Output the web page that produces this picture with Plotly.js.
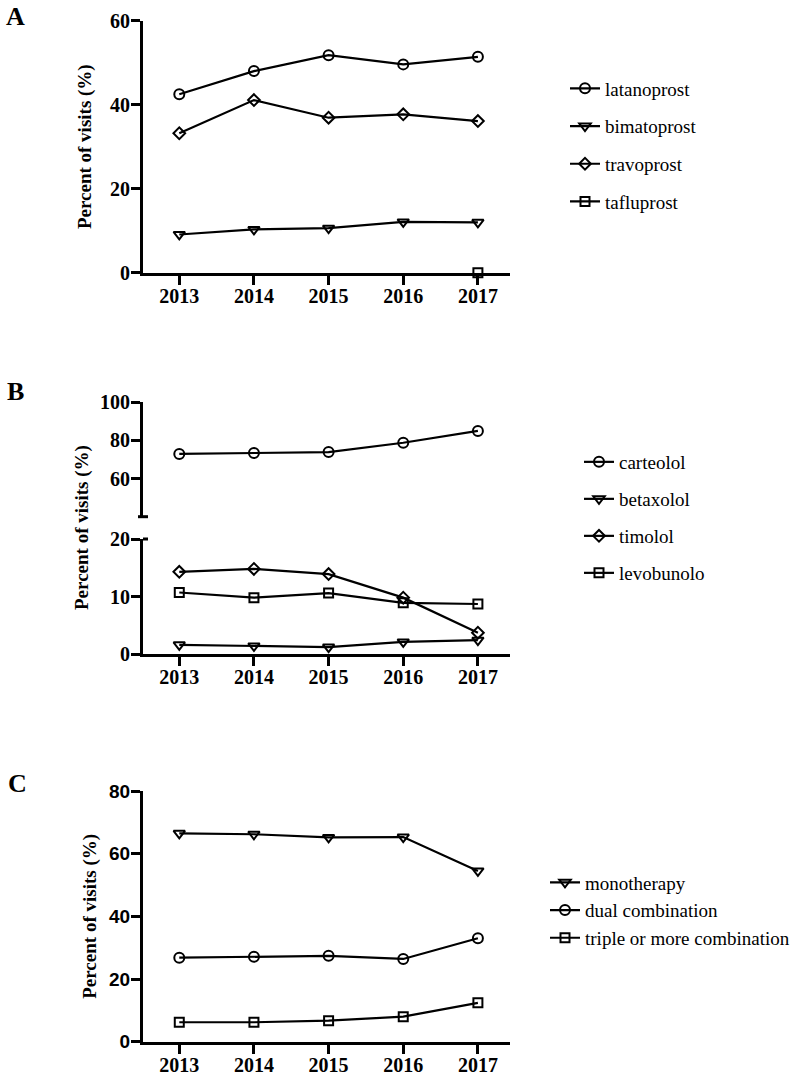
<!DOCTYPE html>
<html>
<head>
<meta charset="utf-8">
<script src="https://cdn.plot.ly/plotly-3.0.1.min.js"></script>
<style>
  html, body { margin: 0; padding: 0; background: #fff; }
  #chart { width: 800px; height: 1076px; }
</style>
</head>
<body>
<div id="chart"></div>
<script>
// ---------- data ----------
const years = [2013, 2014, 2015, 2016, 2017];
const yearLabels = ['2013', '2014', '2015', '2016', '2017'];

// Panel A: prostaglandin analogues
const latanoprost = [42.5, 48.0, 51.8, 49.6, 51.4];
const bimatoprost = [9.1, 10.3, 10.6, 12.1, 12.0];
const travoprost = [33.2, 41.1, 36.9, 37.7, 36.1];
const tafluprost = [null, null, null, null, 0];

// Panel B: beta blockers
const carteolol = [72.9, 73.4, 73.9, 78.8, 85.0];
const betaxolol = [1.6, 1.4, 1.2, 2.1, 2.4];
const timolol = [14.3, 14.8, 13.9, 9.8, 3.7];
const levobunolo = [10.7, 9.8, 10.6, 8.9, 8.7];

// Panel C: therapy type
const monotherapy = [66.5, 66.2, 65.2, 65.3, 54.5];
const dualCombination = [26.8, 27.1, 27.4, 26.4, 33.0];
const tripleCombination = [6.2, 6.2, 6.7, 8.0, 12.4];

const yTicksA = [0, 20, 40, 60];
const yTicksBLow = [0, 10, 20];
const yTicksBHigh = [60, 80, 100];
const yTicksC = [0, 20, 40, 60, 80];

// ---------- style helpers ----------
const W = 800, H = 1076;
const px = v => v / W;            // x pixel -> paper
const py = v => 1 - v / H;        // y pixel -> paper

// fresh font objects for every use
const serifTick = () => ({ family: 'Liberation Serif', size: 20, color: '#000', weight: 'bold' });
const sansTick = () => ({ family: 'Liberation Sans', size: 19, color: '#000', weight: 'bold' });
const titleFont = () => ({ family: 'Liberation Serif', size: 19, color: '#000', weight: 'bold' });
const legendFont = () => ({ family: 'Liberation Serif', size: 19, color: '#000' });
const letterFont = () => ({ family: 'Liberation Serif', size: 26, color: '#000', weight: 'bold' });

function tr(name, x, y, symbol, size, xa, ya, legend) {
  return {
    type: 'scatter', mode: 'lines+markers', name: name,
    x: x, y: y, xaxis: xa, yaxis: ya, legend: legend, legendgroup: name,
    line: { color: '#000', width: 2.2 },
    marker: { symbol: symbol, size: size, color: '#000', line: { color: '#000', width: 2 } },
    cliponaxis: false, connectgaps: false
  };
}

const data = [
  tr('latanoprost', years, latanoprost, 'circle-open', 10, 'x', 'y', 'legend'),
  tr('bimatoprost', years, bimatoprost, 'triangle-down-open', 10, 'x', 'y', 'legend'),
  tr('travoprost', years, travoprost, 'diamond-open', 9, 'x', 'y', 'legend'),
  tr('tafluprost', years, tafluprost, 'square-open', 9, 'x', 'y', 'legend'),

  tr('carteolol', years, carteolol, 'circle-open', 10, 'x2', 'y3', 'legend2'),
  tr('betaxolol', years, betaxolol, 'triangle-down-open', 10, 'x2', 'y2', 'legend2'),
  tr('timolol', years, timolol, 'diamond-open', 9, 'x2', 'y2', 'legend2'),
  tr('levobunolo', years, levobunolo, 'square-open', 9, 'x2', 'y2', 'legend2'),

  tr('monotherapy', years, monotherapy, 'triangle-down-open', 10, 'x3', 'y4', 'legend3'),
  tr('dual combination', years, dualCombination, 'circle-open', 10, 'x3', 'y4', 'legend3'),
  tr('triple or more combination', years, tripleCombination, 'square-open', 9, 'x3', 'y4', 'legend3')
];

function xAxis(anchor) {
  return {
    domain: [px(143), px(510)], anchor: anchor, range: [2012.514, 2017.43],
    tickmode: 'array', tickvals: years.slice(), ticktext: yearLabels.slice(),
    showline: true, linecolor: '#000', linewidth: 3,
    ticks: 'outside', ticklen: 9, tickwidth: 3, tickcolor: '#000',
    ticklabelstandoff: -6,
    showgrid: false, zeroline: false, tickfont: serifTick(), fixedrange: true
  };
}
function yAxis(anchor, dom, range, ticks, font, title, standoff) {
  const a = {
    domain: dom, anchor: anchor, range: range,
    tickmode: 'array', tickvals: ticks,
    showline: true, linecolor: '#000', linewidth: 3,
    ticks: 'outside', ticklen: 9, tickwidth: 3, tickcolor: '#000',
    ticklabelstandoff: -3,
    showgrid: false, zeroline: false, tickfont: font, fixedrange: true
  };
  if (title) a.title = { text: title, font: titleFont(), standoff: standoff };
  return a;
}

function legendAt(xp, yp, gap) {
  return {
    x: px(xp), y: py(yp), xanchor: 'left', yanchor: 'top',
    font: legendFont(), tracegroupgap: gap, bgcolor: 'rgba(0,0,0,0)',
    borderwidth: 0, itemclick: false, itemdoubleclick: false
  };
}

const layout = {
  width: W, height: H,
  margin: { l: 0, r: 0, t: 0, b: 0 },
  paper_bgcolor: '#fff', plot_bgcolor: 'rgba(0,0,0,0)',
  font: { family: 'Liberation Serif', color: '#000' },
  showlegend: true,
  xaxis: xAxis('y'),
  yaxis: yAxis('x', [py(272.7), py(20.7)], [0, 60], yTicksA, serifTick(), 'Percent of visits (%)', 14),
  xaxis2: xAxis('y2'),
  yaxis2: yAxis('x2', [py(654), py(539)], [0, 20], yTicksBLow, serifTick(), null),
  yaxis3: yAxis('x2', [py(516.7), py(402.3)], [40, 100], yTicksBHigh, serifTick(), null),
  xaxis3: xAxis('y4'),
  yaxis4: yAxis('x3', [py(1041.7), py(791)], [0, 80], yTicksC, sansTick(), 'Percent of visits (%)', 8),
  legend: legendAt(565, 69.5, 10),
  legend2: legendAt(579, 443, 9.3),
  legend3: legendAt(545, 863.5, 0),
  annotations: [
    { text: 'A', x: px(15), y: py(16), xref: 'paper', yref: 'paper', xanchor: 'center', yanchor: 'middle',
      showarrow: false, font: letterFont() },
    { text: 'B', x: px(15), y: py(391), xref: 'paper', yref: 'paper', xanchor: 'center', yanchor: 'middle',
      showarrow: false, font: letterFont() },
    { text: 'C', x: px(17), y: py(783), xref: 'paper', yref: 'paper', xanchor: 'center', yanchor: 'middle',
      showarrow: false, font: letterFont() },
    { text: 'Percent of visits (%)', x: px(82), y: py(528), xref: 'paper', yref: 'paper',
      xanchor: 'center', yanchor: 'middle', showarrow: false, textangle: -90, font: titleFont() }
  ],
  shapes: [
    { type: 'line', xref: 'paper', yref: 'paper', x0: px(138), x1: px(148), y0: py(516.7), y1: py(516.7),
      line: { color: '#000', width: 3 } },
    { type: 'line', xref: 'paper', yref: 'paper', x0: px(143), x1: px(148), y0: py(539), y1: py(539),
      line: { color: '#000', width: 3 } }
  ]
};

Plotly.newPlot('chart', data, layout, { staticPlot: true, displayModeBar: false });
</script>
</body>
</html>
